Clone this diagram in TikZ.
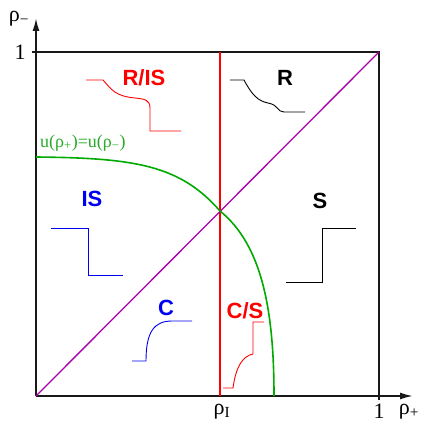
\documentclass[tikz,border=0pt]{standalone}
\usepackage{fontspec}
\setmainfont{Liberation Serif}
\setsansfont{Liberation Sans}
\usetikzlibrary{arrows.meta}
\definecolor{purp}{RGB}{170,0,170}
\definecolor{grn}{RGB}{0,170,0}
\definecolor{grntxt}{RGB}{40,170,40}
\definecolor{myred}{RGB}{255,0,0}
\definecolor{myblue}{RGB}{0,0,240}
\tikzset{
  frame/.style={line width=1.8pt, black!90},
  axis/.style={line width=1.8pt, black!90, -{Latex[length=13pt,width=7pt]}},
  axlab/.style={font=\fontsize{22}{24}\selectfont, inner sep=0pt},
  region/.style={font=\sffamily\bfseries\fontsize{22}{24}\selectfont, inner sep=0pt},
  wave/.style={line width=0.9pt}
}
\begin{document}
\begin{tikzpicture}[x=1pt,y=-1pt]
\useasboundingbox (0,0) rectangle (421,428);
% corners
\coordinate (O) at (36,396);
\coordinate (TL) at (32,52);
\coordinate (TR) at (379,52);
\coordinate (BR) at (379,400);
\coordinate (Ytip) at (36,18);
\coordinate (Xtip) at (413,396);
\coordinate (RT) at (220,52);
\coordinate (RB) at (220,396);
\coordinate (X) at (220,211);
\coordinate (G0) at (36,157);
\coordinate (G1) at (274,396);
% frame and axes
\draw[frame] (TL) -- (TR) -- (BR);
\draw[axis] (O) -- (Ytip);
\draw[axis] (O) -- (Xtip);
% red line and diagonal
\draw[myred, line width=1.3pt] (RT) -- (RB);
\draw[purp, line width=1.3pt] (O) -- (TR);
% green curve
\draw[grn, line width=1.6pt] (G0) .. controls (135,158) and (180,165) .. (X)
  .. controls (262,245) and (274,310) .. (G1);
% axis labels
\node[axlab] (rhom) at (19,19) {ρ\textsubscript{−}};
\node[axlab] (one1) at (20,52) {1};
\node[axlab] (rhoI) at (222,412) {ρ\textsubscript{I}};
\node[axlab] (one2) at (379,411) {1};
\node[axlab] (rhop) at (409,412) {ρ\textsubscript{+}};
\node[grntxt, font=\fontsize{18}{20}\selectfont, inner sep=0pt, anchor=west] (ulab) at (40,143) {u(ρ\textsubscript{+})=u(ρ\textsubscript{−})};
% region labels
\node[region, myred] (lRIS) at (144,78) {R/IS};
\node[region, black] (lR) at (285,78) {R};
\node[region, myblue] (lIS) at (92,199) {IS};
\node[region, black] (lS) at (320,201) {S};
\node[region, myblue] (lC) at (166,308) {C};
\node[region, myred] (lCS) at (245,311) {C/S};
% waveforms
\draw[wave, myred] (86,80) -- (103,80) .. controls (112,90) and (115,96) .. (135,98)
  .. controls (145,99) and (150,100) .. (150,108) -- (150,131) -- (181,131);
\draw[wave, black] (230,80) -- (244,80) .. controls (252,95) and (258,101) .. (268,103)
  .. controls (279,105) and (277,112) .. (284,112) -- (305,112);
\draw[wave, myblue] (51,228) -- (88,228) -- (88,275) -- (123,275);
\draw[wave, black] (286,282) -- (322,282) -- (322,228) -- (356,228);
\draw[wave, myblue] (132,361) -- (146,361) .. controls (146,332) and (154,321) .. (172,321) -- (192,321);
\draw[wave, myred] (223,388) -- (233,388) .. controls (236,366) and (243,356) .. (253,354) -- (253,322) -- (264,322);
\end{tikzpicture}
\end{document}
